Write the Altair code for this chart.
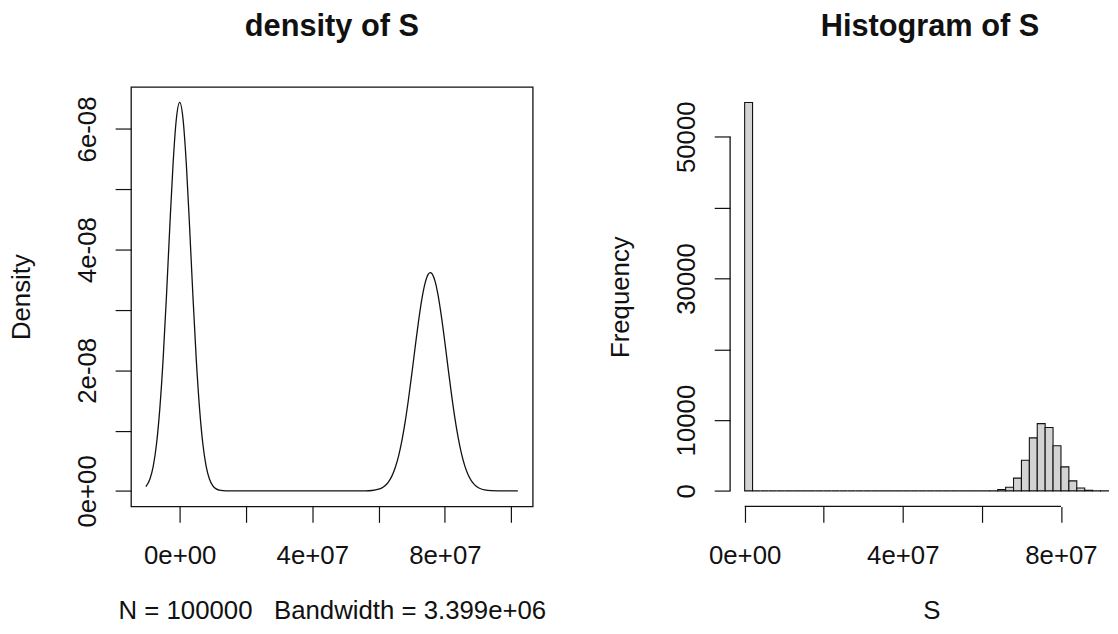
import altair as alt
import pandas as pd

FONT = "Liberation Sans, Arial, Helvetica, sans-serif"
INK = "#111111"

# ---------------- left panel: kernel density curve ----------------
# x in units of 1e6, density in units of 1e-8
density_x_millions = [
    -10.2, -9, -8, -7, -6, -5, -4, -3, -2, -1, 0, 1, 2, 3, 4, 5, 6, 7, 8, 9,
    10, 11, 12, 13, 14, 16, 20, 30, 40, 50, 56, 58, 60, 61, 62, 63, 64, 65, 66,
    67, 68, 69, 70, 71, 72, 73, 74, 75, 75.6, 76, 77, 78, 79, 80, 81, 82, 83, 84,
    85, 86, 87, 88, 89, 90, 91, 92, 94, 96, 100, 102,
]
density_y_e8 = [
    0.072, 0.194, 0.404, 0.773, 1.36, 2.18, 3.22, 4.36, 5.42, 6.17, 6.44, 6.17, 5.42, 4.36, 3.22, 2.18, 1.36, 0.773, 0.404, 0.194,
    0.085, 0.034, 0.013, 0.004, 0.001, 0.0, 0.0, 0.0, 0.0, 0.0, 0.002, 0.007, 0.028, 0.051, 0.090, 0.151, 0.245, 0.383, 0.573,
    0.825, 1.140, 1.515, 1.933, 2.371, 2.794, 3.162, 3.439, 3.594, 3.620, 3.608, 3.481, 3.226, 2.873, 2.458, 2.020, 1.596, 1.211, 0.883,
    0.618, 0.416, 0.269, 0.167, 0.100, 0.057, 0.032, 0.017, 0.004, 0.001, 0.0, 0.0,
]
density_x_ticks = [0, 2e7, 4e7, 6e7, 8e7, 1e8]
density_x_labels = ["0e+00", "", "4e+07", "", "8e+07", ""]
density_y_ticks = [0, 1e-8, 2e-8, 3e-8, 4e-8, 5e-8, 6e-8]
density_y_labels = ["0e+00", "", "2e-08", "", "4e-08", "", "6e-08"]
density_title = "density of S"
density_xlab = "N = 100000\u00a0\u00a0\u00a0Bandwidth = 3.399e+06"
density_ylab = "Density"

# ---------------- right panel: histogram (bin width 2e6, starting at 0) ----------------
hist_bin_width = 2e6
hist_counts = [
    54850, 0, 0, 0, 0, 0, 0, 0, 0, 0,
    0, 0, 0, 0, 0, 0, 0, 0, 0, 0,
    0, 0, 0, 0, 0, 0, 0, 0, 0, 0,
    0, 30, 200, 510, 1800, 4320, 7490, 9500, 8950, 6380,
    3400, 1420, 420, 100, 20, 3,
]
hist_x_ticks = [0, 2e7, 4e7, 6e7, 8e7]
hist_x_labels = ["0e+00", "", "4e+07", "", "8e+07"]
hist_y_ticks = [0, 10000, 20000, 30000, 40000, 50000]
hist_y_labels = ["0", "10000", "", "30000", "", "50000"]
hist_title = "Histogram of S"
hist_xlab = "S"
hist_ylab = "Frequency"


def label_expr(values, labels, tol):
    parts = [f"abs(datum.value - ({v!r})) < {tol!r} ? '{l}' : " for v, l in zip(values, labels)]
    return "".join(parts) + "''"


common_axis = dict(
    domain=False, grid=False, ticks=True, tickSize=16, tickColor=INK, tickWidth=1.2,
    labelFont=FONT, labelFontSize=26, labelColor=INK, labelOverlap=False, labelFlush=False,
    titleFont=FONT, titleFontSize=26, titleFontWeight="normal", titleColor=INK,
)

# R style limits: data range extended by 4 % on each side
dx = [v * 1e6 for v in density_x_millions]
dy = [v * 1e-8 for v in density_y_e8]
dxr = max(dx) - min(dx)
dyr = max(dy) - 0
L_XDOM = [min(dx) - 0.04 * dxr, max(dx) + 0.04 * dxr]
L_YDOM = [0 - 0.04 * dyr, max(dy) + 0.04 * dyr]

L_W, L_H = 405, 423
R_W, R_H = 383, 423
TITLE_OFFSET = 20
XTITLE_Y = 113

dens_df = pd.DataFrame({"x": dx, "y": dy})

left = alt.Chart(dens_df).mark_line(color=INK, strokeWidth=1.3, interpolate="monotone").encode(
    x=alt.X("x:Q", scale=alt.Scale(domain=L_XDOM, nice=False, zero=False),
            axis=alt.Axis(values=density_x_ticks,
                          labelExpr=label_expr(density_x_ticks, density_x_labels, 1e5),
                          labelAlign="center", labelBaseline="alphabetic", labelPadding=42,
                          title=density_xlab, titleAlign="center", titleBaseline="alphabetic",
                          titleX=L_W / 2, titleY=XTITLE_Y, **common_axis)),
    y=alt.Y("y:Q", scale=alt.Scale(domain=L_YDOM, nice=False, zero=False),
            axis=alt.Axis(values=density_y_ticks,
                          labelExpr=label_expr(density_y_ticks, density_y_labels, 1e-12),
                          labelAngle=270, labelAlign="center", labelBaseline="alphabetic", labelPadding=20,
                          title=density_ylab, titleAngle=270, titleAlign="center", titleBaseline="alphabetic",
                          titleX=-102, titleY=L_H / 2, **common_axis)),
).properties(
    width=L_W, height=L_H,
    title=alt.TitleParams(text=density_title, font=FONT, fontSize=31, fontWeight="bold", color=INK,
                          anchor="middle", frame="group", baseline="alphabetic", offset=TITLE_OFFSET),
    view=alt.ViewBackground(stroke=INK, strokeWidth=1.3, strokeOpacity=1),
)

# histogram
h_start = [i * hist_bin_width for i in range(len(hist_counts))]
hist_df = pd.DataFrame({
    "start": h_start,
    "end": [s + hist_bin_width for s in h_start],
    "count": hist_counts,
    "base": [0] * len(hist_counts),
})
R_YDOM = [0 - 0.04 * max(hist_counts), max(hist_counts) * 1.04]
hist_range = hist_df["end"].max() - 0
R_XDOM = [0 - 0.04 * hist_range, 9.24e7]

rx_scale = alt.Scale(domain=R_XDOM, nice=False, zero=False)
ry_scale = alt.Scale(domain=R_YDOM, nice=False, zero=False)

rx_axis = alt.Axis(values=hist_x_ticks,
                   labelExpr=label_expr(hist_x_ticks, hist_x_labels, 1e5),
                   labelAlign="center", labelBaseline="alphabetic", labelPadding=42,
                   title=hist_xlab, titleAlign="center", titleBaseline="alphabetic",
                   titleX=203, titleY=XTITLE_Y, **common_axis)
ry_axis = alt.Axis(values=hist_y_ticks,
                   labelExpr=label_expr(hist_y_ticks, hist_y_labels, 1.0),
                   labelAngle=270, labelAlign="center", labelBaseline="alphabetic", labelPadding=20,
                   title=hist_ylab, titleAngle=270, titleAlign="center", titleBaseline="alphabetic",
                   titleX=-102, titleY=R_H / 2, **common_axis)

bars = alt.Chart(hist_df).mark_rect(fill="#d3d3d3", stroke=INK, strokeWidth=1.1, clip=True).encode(
    x=alt.X("start:Q", scale=rx_scale, axis=rx_axis),
    x2="end:Q",
    y=alt.Y("count:Q", scale=ry_scale, axis=ry_axis),
    y2="base:Q",
)

xline_df = pd.DataFrame({"start": [hist_x_ticks[0]], "end": [hist_x_ticks[-1]], "count": [R_YDOM[0]]})
yline_df = pd.DataFrame({"count": [hist_y_ticks[0]], "count2": [hist_y_ticks[-1]], "start": [R_XDOM[0]]})

xline = alt.Chart(xline_df).mark_rule(color=INK, strokeWidth=1.3).encode(
    x=alt.X("start:Q", scale=rx_scale, axis=rx_axis), x2="end:Q",
    y=alt.Y("count:Q", scale=ry_scale, axis=ry_axis),
)
yline = alt.Chart(yline_df).mark_rule(color=INK, strokeWidth=1.3).encode(
    y=alt.Y("count:Q", scale=ry_scale, axis=ry_axis), y2="count2:Q",
    x=alt.X("start:Q", scale=rx_scale, axis=rx_axis),
)

right = alt.layer(bars, xline, yline).properties(
    width=R_W, height=R_H,
    title=alt.TitleParams(text=hist_title, font=FONT, fontSize=31, fontWeight="bold", color=INK,
                          anchor="middle", frame="group", baseline="alphabetic", offset=TITLE_OFFSET, dx=10),
    view=alt.ViewBackground(stroke="white", strokeOpacity=0, strokeWidth=0),
)

chart = alt.hconcat(left, right, spacing=62).properties(
    padding={"left": 0, "top": 0, "right": 0, "bottom": 0},
).configure_view(strokeOpacity=0).configure(background="white")

chart.save("out.html", embed_options={"renderer": "svg", "actions": False})
